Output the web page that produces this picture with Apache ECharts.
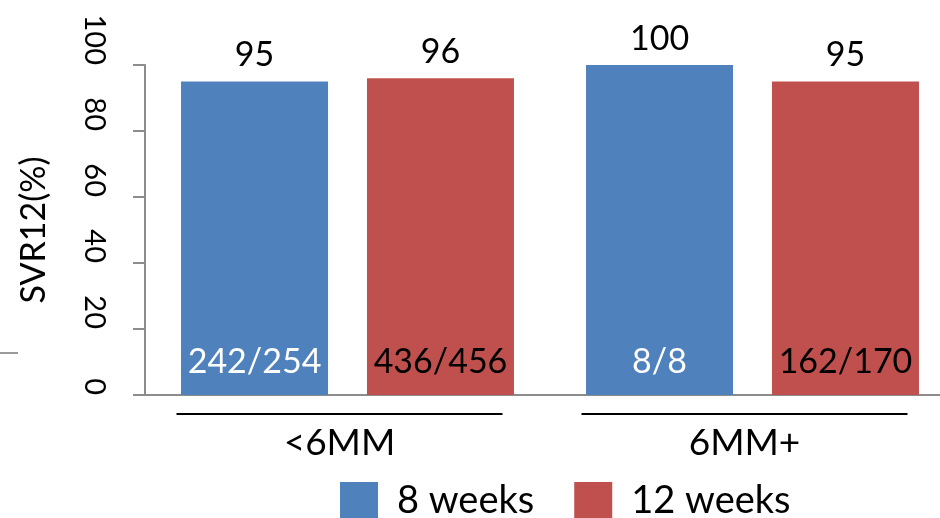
<!DOCTYPE html>
<html>
<head>
<meta charset="utf-8">
<style>
  html, body { margin: 0; padding: 0; background: #fff; }
  #chart { width: 940px; height: 518px; }
</style>
<script src="https://cdn.jsdelivr.net/npm/echarts@6/dist/echarts.min.js"></script>
</head>
<body>
<div id="chart"></div>
<script>
// Duration groups and SVR12 rates (%) per treatment length
const groups = ['<6MM', '6MM+'];
const seriesNames = ['8 weeks', '12 weeks'];
const svr8 = [95, 100];
const svr12 = [96, 95];
// Responders / treated, shown at the foot of each bar
const counts8 = ['242/254', '8/8'];
const counts12 = ['436/456', '162/170'];
// Value axis range
const yMin = 0;
const yMax = 100;
const yStep = 20;

const FONT = 'Lato, "Open Sans", sans-serif';
const BLUE = '#4F81BD';
const RED = '#C0504D';
const AXIS_GRAY = '#8C8C8C';

const chart = echarts.init(document.getElementById('chart'), null, { renderer: 'canvas' });

const barWidth = 147;
const barGap = '26.5%';

function valueSeries(name, data, color, xIdx) {
  return {
    name: name,
    type: 'bar',
    xAxisIndex: xIdx,
    data: data,
    barWidth: barWidth,
    barGap: barGap,
    itemStyle: { color: color },
    label: {
      show: true,
      position: 'top',
      distance: 9,
      fontFamily: FONT,
      fontSize: 34,
      color: '#000'
    }
  };
}

function countSeries(name, data, labels, textColor) {
  return {
    name: name,
    type: 'bar',
    xAxisIndex: 1,
    data: data,
    barWidth: barWidth,
    barGap: barGap,
    silent: true,
    itemStyle: { color: 'rgba(0,0,0,0)' },
    label: {
      show: true,
      position: 'insideBottom',
      distance: 16,
      fontFamily: FONT,
      fontSize: 34,
      color: textColor,
      formatter: p => labels[p.dataIndex]
    }
  };
}

chart.setOption({
  animation: false,
  backgroundColor: '#fff',
  textStyle: { fontFamily: FONT },
  // plot area runs a little past the right edge of the canvas
  grid: { left: 145, top: 65, bottom: 123, width: 810, containLabel: false, outerBoundsMode: 'none' },
  legend: {
    data: seriesNames,
    left: 335,
    top: 477,
    itemWidth: 38,
    itemHeight: 38,
    itemGap: 40,
    icon: 'rect',
    textStyle: { fontFamily: FONT, fontSize: 38, color: '#000', padding: [0, 0, 0, 14] }
  },
  xAxis: [
    {
      type: 'category',
      data: groups,
      axisLine: { show: true, lineStyle: { color: AXIS_GRAY, width: 2 } },
      axisTick: { show: false },
      axisLabel: {
        margin: 18,
        padding: [0, 16, 0, 0],
        formatter: v => '{rule| }\n{name|' + v + '}',
        rich: {
          rule: { width: 326, height: 2, lineHeight: 2, backgroundColor: '#000' },
          name: { fontFamily: FONT, fontSize: 37, lineHeight: 56, color: '#000' }
        }
      }
    },
    {
      type: 'category',
      data: groups,
      show: false
    }
  ],
  yAxis: {
    type: 'value',
    min: yMin,
    max: yMax,
    interval: yStep,
    name: 'SVR12(%)',
    nameLocation: 'middle',
    nameRotate: 90,
    nameGap: 94,
    nameTextStyle: { fontFamily: FONT, fontSize: 34, color: '#000' },
    axisLine: { show: true, lineStyle: { color: AXIS_GRAY, width: 2 } },
    axisTick: { show: true, inside: false, length: 12, lineStyle: { color: AXIS_GRAY, width: 2 } },
    splitLine: { show: false },
    axisLabel: {
      rotate: -90,
      align: 'right',
      verticalAlign: 'top',
      margin: 36,
      fontFamily: FONT,
      fontSize: 29,
      color: '#000'
    }
  },
  series: [
    valueSeries(seriesNames[0], svr8, BLUE, 0),
    valueSeries(seriesNames[1], svr12, RED, 0),
    countSeries('n8', svr8, counts8, '#fff'),
    countSeries('n12', svr12, counts12, '#000')
  ],
  graphic: [
    {
      type: 'line',
      shape: { x1: 0, y1: 353, x2: 18, y2: 353 },
      style: { stroke: '#9A9A9A', lineWidth: 2 }
    }
  ]
});
</script>
</body>
</html>
